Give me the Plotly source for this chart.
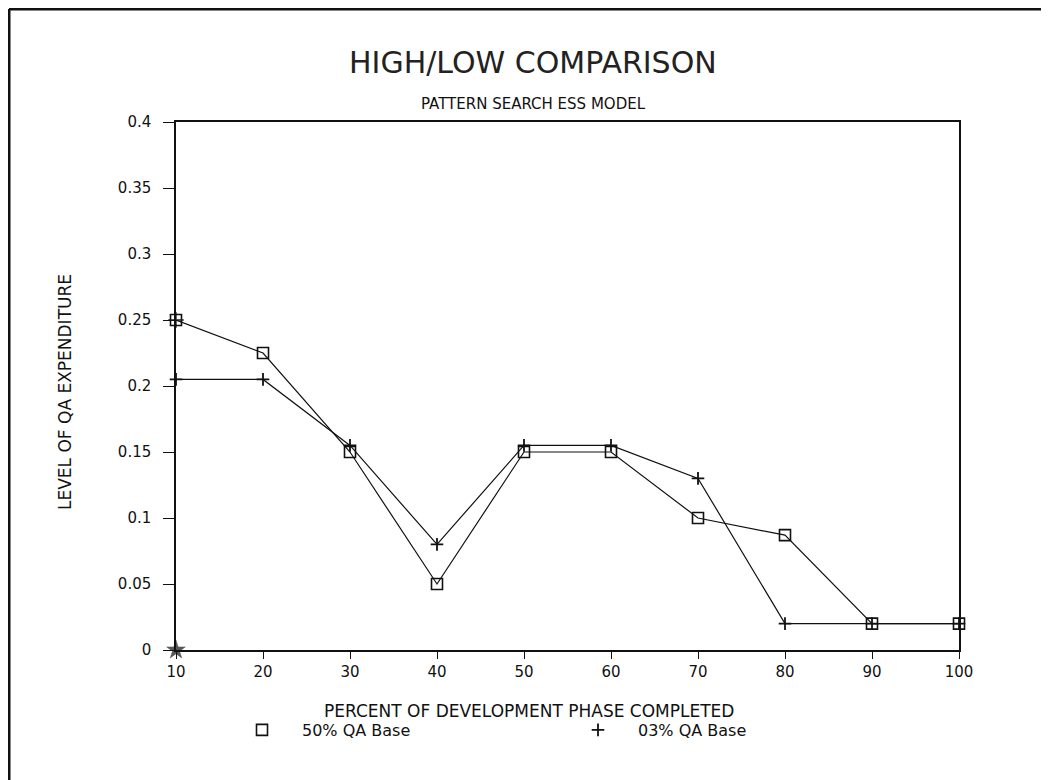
import plotly.graph_objects as go

# ---- data ----
pct_completed = [10, 20, 30, 40, 50, 60, 70, 80, 90, 100]
qa_50_base = [0.25, 0.225, 0.15, 0.05, 0.15, 0.15, 0.10, 0.087, 0.02, 0.02]
qa_03_base = [0.205, 0.205, 0.155, 0.08, 0.155, 0.155, 0.13, 0.02, 0.02, 0.02]
# stray plotter marks at the first category
stray_x = [10, 10]
stray_y = [0.25, 0.0]

y_ticks = [0, 0.05, 0.1, 0.15, 0.2, 0.25, 0.3, 0.35, 0.4]
y_tick_labels = ["0", "0.05", "0.1", "0.15", "0.2", "0.25", "0.3", "0.35", "0.4"]
x_ticks = pct_completed

title_text = "HIGH/LOW COMPARISON"
subtitle_text = "PATTERN SEARCH ESS MODEL"
x_title = "PERCENT OF DEVELOPMENT PHASE COMPLETED"
y_title = "LEVEL OF QA EXPENDITURE"

FONT = "DejaVu Sans"
INK = "#111111"

sq_marker = dict(symbol="square-open", size=11, color=INK, line=dict(width=1.6, color=INK))
pl_marker = dict(symbol="cross-thin", size=9, color=INK, line=dict(width=1.8, color=INK))

fig = go.Figure()
# connecting lines (no legend entry)
fig.add_trace(go.Scatter(x=pct_completed, y=qa_50_base, mode="lines", showlegend=False,
                         line=dict(color=INK, width=1.2), hoverinfo="skip"))
fig.add_trace(go.Scatter(x=pct_completed, y=qa_03_base, mode="lines", showlegend=False,
                         line=dict(color=INK, width=1.2), hoverinfo="skip"))
# markers (legend shows symbol only)
fig.add_trace(go.Scatter(x=pct_completed, y=qa_50_base, name="50% QA Base",
                         mode="markers", marker=sq_marker, cliponaxis=False))
fig.add_trace(go.Scatter(x=pct_completed, y=qa_03_base, name="03% QA Base",
                         mode="markers", marker=pl_marker, cliponaxis=False))
fig.add_trace(go.Scatter(
    x=stray_x, y=stray_y, mode="markers", showlegend=False,
    marker=dict(symbol=["cross-thin", "star"], size=[11, 14], color=INK,
                line=dict(width=[1.8, 0.5], color=INK)),
    cliponaxis=False,
))

# figure is offset by the 8px page margin in the screenshot
W, H = 1041, 772
L, R, T, B = 168, 90, 114, 130
pw, ph = W - L - R, H - T - B

def px_x(x):
    return (x - L) / pw

def px_y(y):
    return (H - B - y) / ph

annotations = [
    dict(text=title_text, x=px_x(525), y=px_y(55), xref="paper", yref="paper",
         showarrow=False, xanchor="center", yanchor="middle",
         font=dict(family=FONT, size=30, color="#222222")),
    dict(text=subtitle_text, x=px_x(525), y=px_y(96), xref="paper", yref="paper",
         showarrow=False, xanchor="center", yanchor="middle",
         font=dict(family=FONT, size=15, color=INK)),
    dict(text=x_title, x=px_x(521), y=px_y(703), xref="paper", yref="paper",
         showarrow=False, xanchor="center", yanchor="middle",
         font=dict(family=FONT, size=17, color=INK)),
    dict(text=y_title, x=px_x(57), y=px_y(384), xref="paper", yref="paper",
         showarrow=False, xanchor="center", yanchor="middle", textangle=-90,
         font=dict(family=FONT, size=17, color=INK)),
]

shapes = [
    dict(type="line", xref="paper", yref="paper", x0=px_x(1), x1=px_x(W),
         y0=px_y(1), y1=px_y(1), line=dict(color=INK, width=3)),
    dict(type="line", xref="paper", yref="paper", x0=px_x(1), x1=px_x(1),
         y0=px_y(1), y1=px_y(H), line=dict(color=INK, width=3)),
]

fig.update_layout(
    width=W, height=H,
    margin=dict(l=L, r=R, t=T, b=B, pad=0),
    paper_bgcolor="white", plot_bgcolor="white",
    font=dict(family=FONT, size=14, color=INK),
    annotations=annotations,
    shapes=shapes,
    showlegend=True,
    legend=dict(
        orientation="h", x=px_x(214), y=px_y(722), xanchor="left", yanchor="middle",
        itemwidth=70, entrywidth=251, entrywidthmode="pixels",
        font=dict(family=FONT, size=16, color=INK),
        bgcolor="rgba(0,0,0,0)", borderwidth=0, itemclick=False,
    ),
    xaxis=dict(
        range=[10, 100], tickmode="array", tickvals=x_ticks,
        ticks="outside", ticklen=7, tickwidth=1, tickcolor=INK,
        showline=True, linecolor=INK, linewidth=1.5, mirror=True,
        showgrid=False, zeroline=False,
        tickfont=dict(family=FONT, size=15, color=INK),
    ),
    yaxis=dict(
        range=[0, 0.4], tickmode="array", tickvals=y_ticks, ticktext=y_tick_labels,
        ticks="outside", ticklen=11, tickwidth=1, tickcolor=INK,
        ticklabelstandoff=9,
        showline=True, linecolor=INK, linewidth=1.5, mirror=True,
        showgrid=False, zeroline=False,
        tickfont=dict(family=FONT, size=15, color=INK),
    ),
)

fig.write_html("out.html")
